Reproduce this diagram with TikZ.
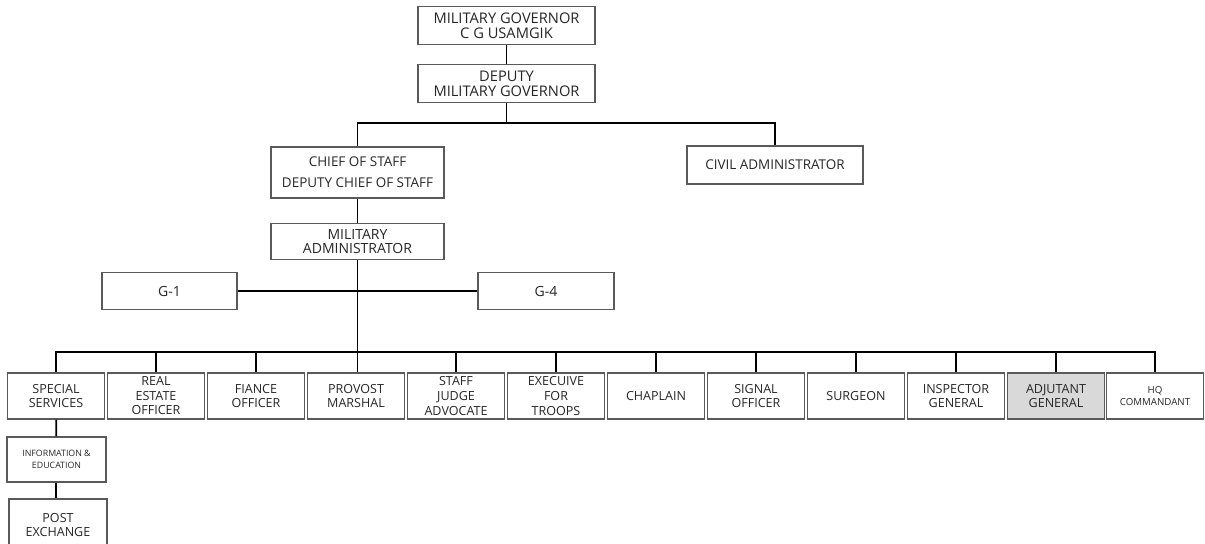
\documentclass[tikz,border=0pt]{standalone}
\usepackage{fontspec}
\setmainfont{Open Sans}
\definecolor{boxline}{HTML}{5A5A5A}
\definecolor{boxtext}{HTML}{262626}
\definecolor{agfill}{HTML}{D9D9D9}
\begin{document}
\begin{tikzpicture}[x=0.75pt,y=-0.75pt,
    unit/.style={draw=boxline,line width=0.8pt,text=boxtext,align=center,inner sep=1pt},
    bigunit/.style={unit,font=\fontsize{11}{11.3}\selectfont,minimum height=38.5*0.75pt},
    midunit/.style={unit,font=\fontsize{10.1}{10.8}\selectfont},
    lowunit/.style={unit,font=\fontsize{9.4}{10.9}\selectfont,minimum width=97*0.75pt,minimum height=46*0.75pt},
    link/.style={draw=black,line width=1.3pt}]

        \useasboundingbox (0,0) rectangle (1205,543);

        \begin{scope}
          \node[bigunit,minimum width=177*0.75pt] (mg)  at (506.5,25.5)  {MILITARY GOVERNOR\\C G USAMGIK};
          \node[bigunit,minimum width=177*0.75pt] (dmg) at (506.5,83.5)  {DEPUTY\\MILITARY GOVERNOR};
          \node[midunit,minimum width=173*0.75pt,minimum height=51*0.75pt] (cos) at (357.5,172.5) {CHIEF OF STAFF\\[5pt]DEPUTY CHIEF OF STAFF};
          \node[midunit,minimum width=176*0.75pt,minimum height=38*0.75pt] (civ) at (775,165) {CIVIL ADMINISTRATOR};
          \node[midunit,minimum width=173*0.75pt,minimum height=36*0.75pt,font=\fontsize{10.5}{11}\selectfont] (madm) at (357.5,241.5) {MILITARY\\ADMINISTRATOR};
          \node[midunit,minimum width=135*0.75pt,minimum height=37*0.75pt,font=\fontsize{10.5}{11}\selectfont] (g1) at (169.5,291) {G-1};
          \node[midunit,minimum width=136*0.75pt,minimum height=37*0.75pt,font=\fontsize{10.5}{11}\selectfont] (g4) at (546,291) {G-4};
        \end{scope}

        \begin{scope}[every node/.style={lowunit}]
          \node (s1)  at (56,396)   {SPECIAL\\SERVICES};
          \node (s2)  at (156,396)  {REAL\\ESTATE\\OFFICER};
          \node (s3)  at (256,396)  {FIANCE\\OFFICER};
          \node (s4)  at (356,396)  {PROVOST\\MARSHAL};
          \node (s5)  at (456,396)  {STAFF\\JUDGE\\ADVOCATE};
          \node (s6)  at (556,396)  {EXECUIVE\\FOR\\TROOPS};
          \node (s7)  at (656,396)  {CHAPLAIN};
          \node (s8)  at (756,396)  {SIGNAL\\OFFICER};
          \node (s9)  at (856,396)  {SURGEON};
          \node (s10) at (956,396)  {INSPECTOR\\GENERAL};
          \node[fill=agfill] (s11) at (1056,396) {ADJUTANT\\GENERAL};
          \node[font=\fontsize{7.3}{9}\selectfont] (s12) at (1155,396) {HQ\\COMMANDANT};
          \node[minimum width=99*0.75pt,minimum height=45*0.75pt,font=\fontsize{6.6}{9}\selectfont] (ie) at (56.5,459.5) {INFORMATION \&\\EDUCATION};
          \node[minimum width=98*0.75pt,minimum height=52*0.75pt] (px) at (58,525) {POST\\EXCHANGE};
        \end{scope}

        \coordinate (top) at (506.5,123);
        \coordinate (low) at (357.5,352);

        \begin{scope}[every path/.style={link}]
          \path (mg) -- (dmg);
          \path (dmg) -- (top);
          \path (cos.north) |- (top) -| (civ.north);
          \path (cos) -- (madm);
          \path (madm) -- (low);
          \path (g1) -- (g4);
          \path (low) -| (s1.north);
          \path (low) -| (s2.north);
          \path (low) -| (s3.north);
          \path (low) -- (s4.north -| low);
          \path (low) -| (s5.north);
          \path (low) -| (s6.north);
          \path (low) -| (s7.north);
          \path (low) -| (s8.north);
          \path (low) -| (s9.north);
          \path (low) -| (s10.north);
          \path (low) -| (s11.north);
          \path (low) -| (s12.north);
          \path (s1) -- (ie);
          \path (ie.south -| s1) -- (px.north -| s1);
        \end{scope}

      \end{tikzpicture}
\end{document}
